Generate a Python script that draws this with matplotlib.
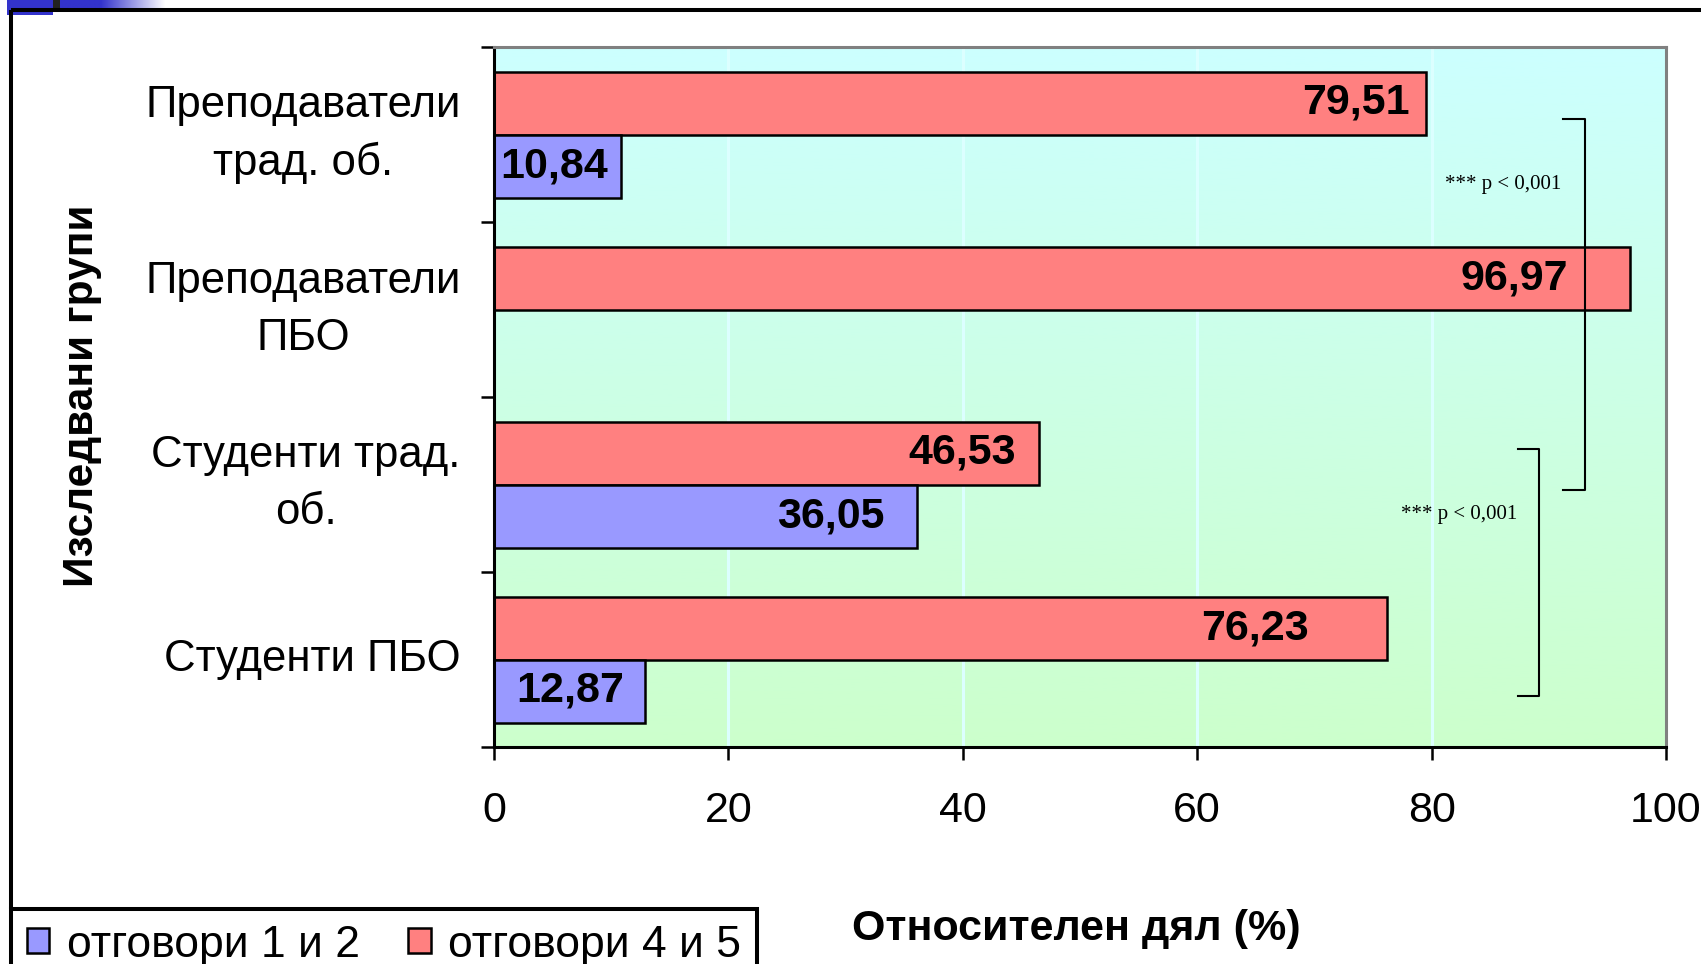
import numpy as np
import matplotlib
matplotlib.use("Agg")
import matplotlib.pyplot as plt
from matplotlib.patches import Patch, Rectangle
from matplotlib.colors import LinearSegmentedColormap

# ---- data ----
groups = ["Студенти ПБО", "Студенти трад.\nоб.", "Преподаватели\nПБО", "Преподаватели\nтрад. об."]
answers_1_2 = [12.87, 36.05, 0.0, 10.84]
answers_4_5 = [76.23, 46.53, 96.97, 79.51]
series_names = ["отговори 1 и 2", "отговори 4 и 5"]
x_ticks = [0, 20, 40, 60, 80, 100]
p_label = "*** p < 0,001"
x_title = "Относителен дял (%)"
y_title = "Изследвани групи"

# inward offset of each value label from its bar end (data units)
pad_1_2 = [1.8, 2.75, 0.0, 1.1]
pad_4_5 = [6.7, 2.0, 5.3, 1.35]

plt.rcParams['font.family'] = ['Liberation Sans', 'DejaVu Sans']

W, H = 1701, 964
fig = plt.figure(figsize=(W / 100, H / 100), dpi=100)

# slide-style frame and corner decoration
deco = fig.add_axes([0, 0, 1, 1], zorder=0)
deco.set_xlim(0, W)
deco.set_ylim(H, 0)
deco.axis('off')
fade = np.concatenate([np.zeros(40), np.linspace(0, 1, 65)])
fade_cmap = LinearSegmentedColormap.from_list('fade', ['#3333CC', '#FFFFFF'])
deco.imshow(fade.reshape(1, -1), extent=[60, 165, 9, 0], cmap=fade_cmap,
            aspect='auto', interpolation='bilinear', zorder=1)
deco.add_patch(Rectangle((7, 0), 46, 15, color='#3333CC', lw=0, zorder=2))
deco.add_patch(Rectangle((53, 0), 7, 9, color='#222222', lw=0, zorder=2))
deco.plot([11, W], [10, 10], color='black', lw=2.9, solid_capstyle='butt', zorder=3)
deco.plot([11, 11], [10, 909], color='black', lw=2.9, solid_capstyle='butt', zorder=3)
deco.set_xlim(0, W)
deco.set_ylim(H, 0)

# ---- main chart ----
ax = fig.add_axes([494 / W, 1 - 747 / H, (1666 - 494) / W, (747 - 47) / H], zorder=1)
ax.set_xlim(0, 100)
ax.set_ylim(-0.5, len(groups) - 0.5)

bg_cmap = LinearSegmentedColormap.from_list('bg', ['#CCFFCC', '#CCFFFF'])
ax.imshow(np.linspace(0, 1, 256).reshape(-1, 1), extent=[0, 100, -0.5, len(groups) - 0.5],
          origin='lower', aspect='auto', cmap=bg_cmap, zorder=0)
ax.set_axisbelow(True)
ax.xaxis.grid(True, color='#DCFFFF', lw=2.2)

y = np.arange(len(groups))
h = 0.36
ax.barh(y + h / 2, answers_4_5, height=h, color='#FF8080', edgecolor='black', lw=1.8, zorder=2)
ax.barh(y - h / 2, answers_1_2, height=h, color='#9999FF', edgecolor='black', lw=1.8, zorder=2)

for yi, v, p in zip(y, answers_4_5, pad_4_5):
    ax.text(v - p, yi + h / 2, f"{v:.2f}".replace('.', ','), ha='right', va='center',
            fontsize=31, fontweight='bold', zorder=3)
for yi, v, p in zip(y, answers_1_2, pad_1_2):
    if v > 0:
        ax.text(v - p, yi - h / 2, f"{v:.2f}".replace('.', ','), ha='right', va='center',
                fontsize=31, fontweight='bold', zorder=3)

# significance brackets
ax.plot([91.2, 93.1, 93.1, 91.2], [3.088, 3.088, 0.971, 0.971], color='black', lw=1.5, zorder=4)
ax.text(91.1, 2.716, p_label, ha='right', va='center', fontsize=15,
        family=['Liberation Serif'], zorder=4)
ax.plot([87.4, 89.2, 89.2, 87.4], [1.205, 1.205, -0.208, -0.208], color='black', lw=1.5, zorder=4)
ax.text(87.3, 0.828, p_label, ha='right', va='center', fontsize=15,
        family=['Liberation Serif'], zorder=4)

# axes and ticks
ax.set_yticks(np.arange(-0.5, len(groups)))
ax.set_yticklabels([])
ax.set_yticks(y, minor=True)
ax.set_yticklabels(groups, minor=True, fontsize=31.5, linespacing=1.5,
                   multialignment='center', va='center')
ax.tick_params(axis='y', which='major', direction='out', length=9.4, width=1.8)
ax.tick_params(axis='y', which='minor', length=0, pad=24)
ax.set_xticks(x_ticks)
ax.set_xticklabels([str(t) for t in x_ticks], fontsize=31)
ax.tick_params(axis='x', direction='out', length=9.4, width=1.8, pad=22)

for side in ('left', 'bottom'):
    ax.spines[side].set_color('black')
    ax.spines[side].set_linewidth(2.2)
for side in ('top', 'right'):
    ax.spines[side].set_color('#808080')
    ax.spines[side].set_linewidth(2.2)

fig.text(1076 / W, 1 - 929 / H, x_title, ha='center', va='center', fontsize=31, fontweight='bold')
fig.text(82 / W, 1 - 396 / H, y_title, ha='center', va='center', rotation=90,
         fontsize=30.5, fontweight='bold')

handles = [Patch(facecolor='#9999FF', edgecolor='black', lw=1.8),
           Patch(facecolor='#FF8080', edgecolor='black', lw=1.8)]
leg = fig.legend(handles, series_names, loc='upper left', bbox_to_anchor=(11 / W, 1 - 909 / H),
                 ncol=2, fontsize=32, frameon=True, fancybox=False, edgecolor='black',
                 handlelength=0.5, handleheight=0.5, handletextpad=0.4, columnspacing=1.1,
                 borderpad=0.35, borderaxespad=0)
leg.get_frame().set_linewidth(2.9)
leg.get_frame().set_alpha(1)

fig.savefig('out.png', dpi=100)
